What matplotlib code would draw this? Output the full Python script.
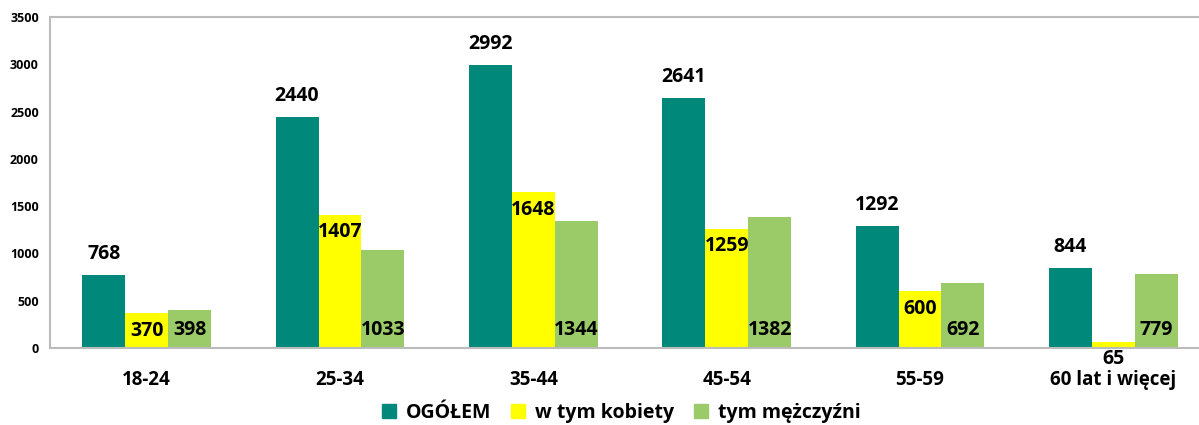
import matplotlib
matplotlib.use("Agg")
import matplotlib.pyplot as plt
import numpy as np
from matplotlib.patches import Patch

categories = ["18-24", "25-34", "35-44", "45-54", "55-59", "60 lat i więcej"]
ogolem = [768, 2440, 2992, 2641, 1292, 844]
kobiety = [370, 1407, 1648, 1259, 600, 65]
mezczyzni = [398, 1033, 1344, 1382, 692, 779]
series_names = ["OGÓŁEM", "w tym kobiety", "tym mężczyźni"]

c_teal = "#00887A"
c_yellow = "#FFFF00"
c_green = "#9BCB68"

plt.rcParams['font.family'] = ['Open Sans', 'DejaVu Sans']
plt.rcParams['font.weight'] = 'bold'

fig = plt.figure(figsize=(11.99, 4.25), dpi=100)
ax = fig.add_axes([50 / 1199, 0.181, 1160 / 1199, 0.779])

x = np.arange(len(categories))
w = 0.222
ax.bar(x - w, ogolem, w, color=c_teal)
ax.bar(x, kobiety, w, color=c_yellow)
ax.bar(x + w, mezczyzni, w, color=c_green)

fs = 14
for xi, v in zip(x - w, ogolem):
    ax.annotate(str(v), (xi, v), xytext=(0, 21), textcoords='offset pixels',
                ha='center', va='center', fontsize=fs, fontweight='bold')
for xi, v in zip(x, kobiety):
    ax.text(xi, v - 185, str(v), ha='center', va='center', fontsize=fs, fontweight='bold')
for xi, v in zip(x + w, mezczyzni):
    ax.text(xi, 190, str(v), ha='center', va='center', fontsize=fs, fontweight='bold')

ax.set_xlim(-0.5, len(categories) - 0.5)
ax.set_ylim(0, 3500)
ax.set_yticks(np.arange(0, 3501, 500))
ax.set_xticks(x)
ax.set_xticklabels(categories, fontsize=13.5, fontweight='bold')
ax.tick_params(axis='x', length=0, pad=16)
ax.tick_params(axis='y', length=0, pad=8, labelsize=9)
for lab in ax.get_yticklabels():
    lab.set_fontweight('bold')
for s in ['left', 'top', 'bottom', 'right']:
    ax.spines[s].set_color('#BBBBBB')
    ax.spines[s].set_linewidth(1.5)

handles = [Patch(color=c_teal), Patch(color=c_yellow), Patch(color=c_green)]
fig.legend(handles, series_names, loc='center', bbox_to_anchor=(0.518, 0.028), ncol=3,
           frameon=False, prop={'weight': 'bold', 'size': 14}, handlelength=0.75,
           handleheight=0.75, handletextpad=0.5, columnspacing=1.0)

fig.savefig("out.png", dpi=100)
